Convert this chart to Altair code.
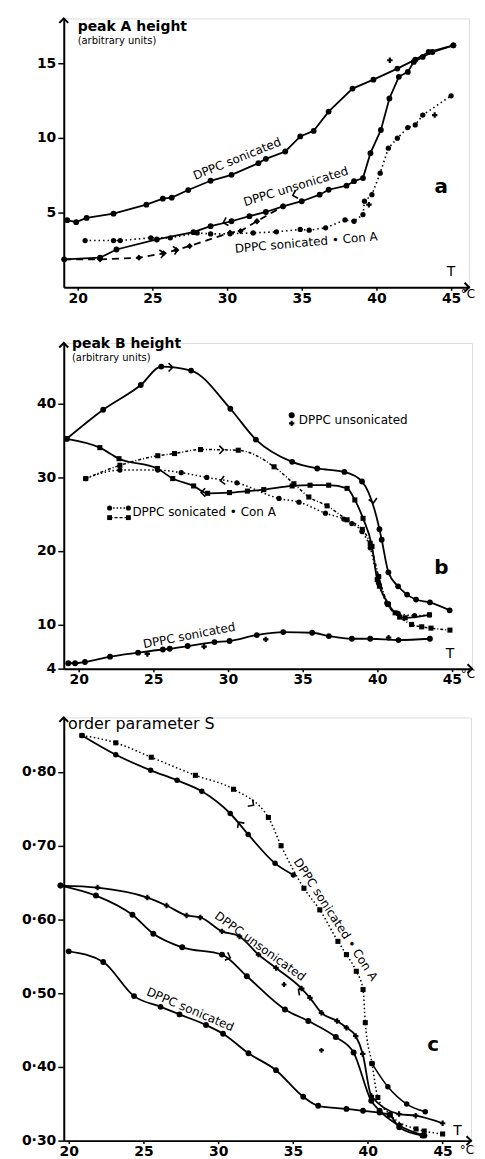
import altair as alt
import pandas as pd

FONT = "DejaVu Sans"

# ---------------- Panel a : peak A height ----------------
A_SON_T = [19.3, 19.9, 20.6, 22.4, 24.6, 25.7, 26.3, 27.4, 28.9, 30.3, 32.1, 32.6, 33.9, 34.9, 35.8, 36.8, 38.4, 39.8, 41.4, 42.6, 43.5, 45.15]
A_SON_V = [4.49, 4.36, 4.64, 4.93, 5.53, 5.93, 6.0, 6.51, 7.13, 7.53, 8.31, 8.6, 9.09, 10.1, 10.47, 11.76, 13.3, 13.9, 14.64, 15.24, 15.75, 16.2]

A_UNS_COOL_T = [19.1, 21.5, 22.6, 25.3, 27.75, 28.9, 30.3, 31.5, 32.6, 33.75, 35.0, 36.2, 36.8, 38.0, 38.5, 39.1, 39.6, 40.3, 40.87, 41.5, 42.1, 42.5, 43.1, 43.75, 45.15]
A_UNS_COOL_V = [1.87, 1.98, 2.53, 3.2, 3.69, 4.09, 4.42, 4.76, 5.04, 5.42, 5.76, 6.2, 6.53, 6.8, 7.1, 7.31, 8.98, 10.53, 12.64, 14.09, 14.42, 15.09, 15.42, 15.75, 16.2]

A_UNS_HEAT_T = [19.1, 21.5, 24.1, 25.75, 26.6, 27.5, 30.2, 30.9, 32.0, 33.75]
A_UNS_HEAT_V = [1.87, 1.87, 1.98, 2.27, 2.49, 2.76, 3.65, 3.76, 4.42, 5.42]

A_CONA_T = [20.5, 22.4, 22.85, 24.9, 26.2, 28.0, 28.9, 30.2, 31.75, 33.3, 34.9, 35.5, 36.6, 37.9, 38.5, 39.1, 39.2, 39.7, 40.25, 40.8, 41.4, 42.1, 42.6, 43.1, 45.0]
A_CONA_V = [3.13, 3.13, 3.13, 3.31, 3.31, 3.64, 3.57, 3.58, 3.64, 3.71, 3.87, 3.82, 3.98, 4.51, 4.42, 4.87, 5.76, 6.2, 7.64, 9.31, 9.98, 10.69, 10.87, 11.53, 12.82]

A_EXTRA_T = [40.9, 43.9, 39.5]
A_EXTRA_V = [15.2, 11.53, 5.53]

A_ARROW_T = [25.8, 26.7, 29.75, 34.4]
A_ARROW_V = [2.28, 2.52, 4.33, 6.15]
A_ARROW_ANG = [348, 348, 164, 164]

# ---------------- Panel b : peak B height ----------------
B_UNS_HEAT_T = [19.2, 21.64, 24.16, 25.53, 27.53, 30.16, 31.87, 34.3, 35.98, 37.8, 38.98, 40.15, 40.3, 40.75, 41.4, 42.0, 42.6, 43.53, 44.85]
B_UNS_HEAT_V = [35.2, 39.14, 42.5, 45.0, 44.46, 39.28, 35.1, 32.07, 31.17, 30.7, 29.4, 22.93, 21.5, 17.07, 15.18, 14.05, 13.38, 13.0, 11.92]

B_UNS_COOL_T = [19.2, 21.42, 22.7, 25.27, 26.3, 27.7, 28.64, 30.1, 31.3, 32.4, 34.3, 35.5, 36.75, 37.98, 38.5, 39.05, 39.65, 40.0, 40.15, 40.75, 41.2, 41.87, 43.5]
B_UNS_COOL_V = [35.2, 34.0, 32.5, 31.17, 29.8, 28.8, 27.8, 27.9, 28.1, 28.3, 28.8, 28.9, 28.9, 28.47, 26.9, 24.4, 20.6, 16.08, 15.2, 12.7, 11.58, 10.9, 11.3]

B_CONA_C_T = [20.47, 22.76, 25.3, 26.87, 28.58, 30.6, 33.42, 34.76, 36.53, 37.76, 38.3, 38.98, 39.53, 40.09, 40.64, 41.4, 42.5, 43.5]
B_CONA_C_V = [29.8, 30.95, 30.95, 30.6, 29.95, 29.23, 27.1, 26.6, 25.1, 24.3, 23.7, 22.6, 20.4, 15.6, 12.9, 11.5, 11.2, 11.3]

B_CONA_S_T = [20.47, 22.76, 25.3, 26.42, 28.16, 30.69, 33.09, 34.42, 35.42, 36.64, 37.98, 39.0, 39.53, 40.1, 40.7, 41.5, 42.3, 42.98, 43.6, 44.87]
B_CONA_S_V = [29.8, 31.6, 32.9, 33.2, 33.74, 33.65, 31.4, 29.1, 27.3, 26.1, 24.2, 22.9, 21.0, 16.5, 12.8, 11.0, 10.0, 9.68, 9.5, 9.23]

B_SON_T = [19.3, 19.76, 20.42, 22.1, 23.98, 25.64, 26.1, 27.3, 29.1, 30.1, 31.93, 33.7, 35.64, 36.76, 38.3, 39.53, 41.42, 43.53]
B_SON_V = [4.73, 4.73, 4.9, 5.63, 6.17, 6.6, 6.7, 7.07, 7.6, 7.75, 8.56, 8.96, 8.87, 8.42, 8.06, 8.06, 7.88, 8.06]

B_EXTRA_T = [24.6, 28.4, 32.53, 40.76]
B_EXTRA_V = [6.0, 7.0, 7.97, 8.2]

B_ARROW_T = [26.3, 39.75, 29.7, 29.5, 28.2]
B_ARROW_V = [44.9, 26.5, 33.7, 29.5, 27.9]
B_ARROW_ANG = [0, 80, 0, 172, 178]

# ---------------- Panel c : order parameter S ----------------
C_CONA_S_T = [20.89, 23.15, 25.52, 28.47, 31.02, 33.35, 34.2, 35.73, 36.79, 38.0, 38.57, 39.23, 39.68, 39.83, 40.28, 40.67, 41.5, 43.22, 43.77, 45.0]
C_CONA_S_V = [0.8495, 0.8396, 0.820, 0.7955, 0.7766, 0.7383, 0.70, 0.6423, 0.613, 0.5703, 0.5523, 0.5297, 0.505, 0.46, 0.4045, 0.3585, 0.335, 0.3158, 0.313, 0.309]

C_CONA_C_T = [20.89, 23.15, 25.48, 27.25, 28.9, 30.8, 32.0, 33.8, 35.02]
C_CONA_C_V = [0.8495, 0.8234, 0.8023, 0.7887, 0.7739, 0.7437, 0.7153, 0.6761, 0.6604]

C_CONA_TAIL_T = [40.28, 41.34, 42.6, 43.84]
C_CONA_TAIL_V = [0.4045, 0.373, 0.3496, 0.3392]

C_UNS_X_T = [19.45, 21.93, 25.26, 26.54, 27.88, 28.8, 30.25, 31.42, 32.69, 33.86, 35.57, 36.13, 36.9, 37.95, 38.57, 39.19, 39.66, 40.23, 42.09, 43.2, 45.0]
C_UNS_X_V = [0.646, 0.6432, 0.6297, 0.6189, 0.6054, 0.6027, 0.5838, 0.577, 0.5523, 0.5342, 0.5063, 0.4937, 0.4734, 0.4622, 0.4532, 0.4419, 0.4176, 0.3608, 0.336, 0.3338, 0.3236]

C_UNS_O_T = [19.45, 21.82, 24.26, 25.66, 27.59, 30.25, 31.91, 34.46, 36.02, 37.86, 39.05, 40.23, 40.79, 42.12, 43.78]
C_UNS_O_V = [0.646, 0.6324, 0.6063, 0.5806, 0.5622, 0.5523, 0.523, 0.478, 0.4622, 0.4405, 0.4194, 0.354, 0.3405, 0.3203, 0.3068]

C_SON_T = [20.0, 22.31, 24.37, 26.14, 27.41, 29.18, 30.32, 32.02, 33.86, 35.68, 36.68, 38.57, 39.68, 40.79, 41.45, 42.1, 43.65]
C_SON_V = [0.5568, 0.5423, 0.496, 0.4815, 0.4712, 0.4568, 0.445, 0.4185, 0.3955, 0.3595, 0.3473, 0.343, 0.3405, 0.338, 0.335, 0.318, 0.3068]

C_EXTRA_T = [34.4, 36.9]
C_EXTRA_V = [0.5117, 0.4225]

C_ARROW_T = [32.36, 31.36, 30.8, 35.36]
C_ARROW_V = [0.755, 0.732, 0.548, 0.505]
C_ARROW_ANG = [35, 235, 20, 215]

X_TICKS = [20, 25, 30, 35, 40, 45]
A_Y_TICKS = [5, 10, 15]
B_Y_TICKS = [4, 10, 20, 30, 40]
C_Y_TICKS = [0.3, 0.4, 0.5, 0.6, 0.7, 0.8]

CHEV_RIGHT = "M -1 -1 L 0 0 L -1 1"
CHEV_UP = "M -1 1 L 0 0 L 1 1"
TICK_FONT = 14


class Panel:
    def __init__(self, xdom, ydom, yticks, ylabel_expr=None):
        self.xdom, self.ydom = xdom, ydom
        self.xs = alt.Scale(domain=xdom, nice=False, zero=False)
        self.ys = alt.Scale(domain=ydom, nice=False, zero=False)
        self.xax = alt.Axis(values=X_TICKS, format="d", labelFontSize=TICK_FONT, labelFont=FONT,
                            labelFontWeight="bold", labelColor="black", domainColor="black", domainWidth=2,
                            tickColor="black", tickWidth=1.5, tickSize=3, labelPadding=1,
                            grid=False, title=None, labelFlush=False, labelOverlap=False)
        yax = dict(values=yticks, labelFontSize=TICK_FONT, labelFont=FONT, labelFontWeight="bold",
                   labelColor="black", domainColor="black", domainWidth=2, tickColor="black", tickWidth=1.5,
                   tickSize=6, labelPadding=2, minExtent=52, maxExtent=52, grid=False,
                   title=None, labelFlush=False, labelOverlap=False)
        if ylabel_expr:
            yax["labelExpr"] = ylabel_expr
        self.yax = alt.Axis(**yax)
        self.layers = []

    def enc(self):
        return dict(x=alt.X("T:Q", scale=self.xs, axis=self.xax),
                    y=alt.Y("v:Q", scale=self.ys, axis=self.yax))

    def line(self, T, V, dash=None, interp="linear", sw=1.8):
        df = pd.DataFrame({"T": T, "v": V})
        props = dict(color="black", strokeWidth=sw, interpolate=interp)
        if dash:
            props["strokeDash"] = dash
        self.layers.append(alt.Chart(df).mark_line(**props).encode(**self.enc()))

    def pts(self, T, V, shape="circle", size=34, filled=True):
        df = pd.DataFrame({"T": T, "v": V})
        self.layers.append(alt.Chart(df).mark_point(shape=shape, size=size, filled=filled, color="black",
                                                    opacity=1, strokeWidth=1.4).encode(**self.enc()))

    def arrows(self, T, V, A):
        df = pd.DataFrame({"T": T, "v": V, "a": A})
        self.layers.append(alt.Chart(df).mark_point(shape=CHEV_RIGHT, size=70, filled=False, color="black",
                                                    opacity=1, strokeWidth=1.6).encode(
            angle=alt.Angle("a:Q", scale=None), **self.enc()))

    def txt(self, s, T, v, size=12, angle=0, align="center", weight="normal"):
        df = pd.DataFrame({"T": [T], "v": [v], "s": [s]})
        self.layers.append(alt.Chart(df).mark_text(fontSize=size, angle=angle % 360, align=align,
                                                   baseline="middle", font=FONT, fontWeight=weight,
                                                   color="black").encode(text="s:N", **self.enc()))

    def frame(self):
        ax = pd.DataFrame({"T": [self.xdom[1]], "v": [self.ydom[0]]})
        ay = pd.DataFrame({"T": [self.xdom[0]], "v": [self.ydom[1]]})
        self.layers.append(alt.Chart(ax).mark_point(shape=CHEV_RIGHT, size=80, filled=False, color="black",
                                                    opacity=1, strokeWidth=2).encode(**self.enc()))
        self.layers.append(alt.Chart(ay).mark_point(shape=CHEV_UP, size=80, filled=False, color="black",
                                                    opacity=1, strokeWidth=2).encode(**self.enc()))

    def chart(self, w, h):
        return alt.layer(*self.layers).properties(width=w, height=h)


# ---- Panel a ----
A = Panel([19.07, 46.2], [0, 18], A_Y_TICKS)
A.frame()
A.line(A_SON_T, A_SON_V)
A.pts(A_SON_T, A_SON_V)
A.line(A_UNS_COOL_T, A_UNS_COOL_V)
A.pts(A_UNS_COOL_T, A_UNS_COOL_V)
A.line(A_UNS_HEAT_T, A_UNS_HEAT_V, dash=[7, 5])
A.pts(A_UNS_HEAT_T, A_UNS_HEAT_V, shape="diamond", size=40)
A.line(A_CONA_T, A_CONA_V, dash=[1.5, 3], sw=1.6)
A.pts(A_CONA_T, A_CONA_V, size=28)
A.pts(A_EXTRA_T, A_EXTRA_V, shape="cross", size=30)
A.arrows(A_ARROW_T, A_ARROW_V, A_ARROW_ANG)
A.txt("peak A height", 20.0, 17.45, size=14, align="left", weight="bold")
A.txt("(arbitrary units)", 20.0, 16.5, size=10, align="left")
A.txt("DPPC sonicated", 30.67, 8.6, size=12, angle=-22)
A.txt("DPPC unsonicated", 34.6, 6.75, size=12, angle=-17)
A.txt("DPPC sonicated • Con A", 35.3, 3.0, size=12, angle=-5)
A.txt("a", 44.33, 6.73, size=20, weight="bold")
A.txt("T", 45.0, 1.0, size=14)
A.txt("°C", 46.6, -0.45, size=12, align="right")
pa = A.chart(407, 270)

# ---- Panel b ----
B = Panel([19.0, 46.35], [4, 48.2], B_Y_TICKS)
B.frame()
B.line(B_UNS_HEAT_T, B_UNS_HEAT_V, interp="monotone")
B.pts(B_UNS_HEAT_T, B_UNS_HEAT_V)
B.line(B_UNS_COOL_T, B_UNS_COOL_V, interp="monotone")
B.pts(B_UNS_COOL_T, B_UNS_COOL_V, shape="square", size=26)
B.line(B_CONA_C_T, B_CONA_C_V, dash=[1.5, 2.5], interp="monotone", sw=1.5)
B.pts(B_CONA_C_T, B_CONA_C_V, size=28)
B.line(B_CONA_S_T, B_CONA_S_V, dash=[3, 2, 1, 2], interp="monotone", sw=1.5)
B.pts(B_CONA_S_T, B_CONA_S_V, shape="square", size=26)
B.line(B_SON_T, B_SON_V, interp="monotone")
B.pts(B_SON_T, B_SON_V)
B.pts(B_EXTRA_T, B_EXTRA_V, shape="cross", size=30)
B.arrows(B_ARROW_T, B_ARROW_V, B_ARROW_ANG)
B.txt("peak B height", 19.55, 48.0, size=14, align="left", weight="bold")
B.txt("(arbitrary units)", 19.55, 46.2, size=10, align="left")
B.pts([34.27], [38.4], size=36)
B.pts([34.27], [37.3], shape="cross", size=28)
B.txt("DPPC unsonicated", 34.75, 37.8, size=12, align="left")
B.line([22.07, 23.33], [25.8, 25.8], dash=[1.5, 2], sw=1.4)
B.pts([22.07, 23.33], [25.8, 25.8], size=26)
B.line([22.07, 23.33], [24.5, 24.5], dash=[3, 2], sw=1.4)
B.pts([22.07, 23.33], [24.5, 24.5], shape="square", size=24)
B.txt("DPPC sonicated • Con A", 23.6, 25.2, size=12, align="left")
B.txt("DPPC sonicated", 27.4, 8.5, size=12, angle=-11)
B.txt("b", 44.3, 17.66, size=20, weight="bold")
B.txt("T", 44.87, 6.0, size=14)
B.txt("°C", 46.55, 3.3, size=12, align="right")
pb = B.chart(410, 327)

# ---- Panel c ----
dot_expr = "replace(format(datum.value, '.2f'), '.', '·')"
C = Panel([19.67, 46.9], [0.30, 0.874], C_Y_TICKS, ylabel_expr=dot_expr)
C.frame()
C.line(C_CONA_S_T, C_CONA_S_V, dash=[1.5, 2.5], interp="monotone", sw=1.5)
C.pts(C_CONA_S_T, C_CONA_S_V, shape="square", size=26)
C.line(C_CONA_C_T, C_CONA_C_V, interp="monotone")
C.pts(C_CONA_C_T, C_CONA_C_V, size=30)
C.line(C_CONA_TAIL_T, C_CONA_TAIL_V, interp="monotone", sw=1.5)
C.pts(C_CONA_TAIL_T, C_CONA_TAIL_V, size=30)
C.line(C_UNS_X_T, C_UNS_X_V, interp="monotone")
C.pts(C_UNS_X_T, C_UNS_X_V, shape="cross", size=30)
C.line(C_UNS_O_T, C_UNS_O_V, interp="monotone")
C.pts(C_UNS_O_T, C_UNS_O_V, size=36)
C.line(C_SON_T, C_SON_V, interp="monotone")
C.pts(C_SON_T, C_SON_V, size=34)
C.pts(C_EXTRA_T, C_EXTRA_V, shape="cross", size=24)
C.arrows(C_ARROW_T, C_ARROW_V, C_ARROW_ANG)
C.txt("order parameter S", 19.95, 0.865, size=16, align="left")
C.txt("DPPC sonicated", 28.13, 0.478, size=12, angle=23)
C.txt("DPPC unsonicated", 32.8, 0.5635, size=12, angle=36)
C.txt("DPPC sonicated • Con A", 37.85, 0.60, size=12, angle=57)
C.txt("c", 44.36, 0.43, size=20, weight="bold")
C.txt("T", 46.0, 0.3126, size=14)
C.txt("°C", 47.1, 0.287, size=12, align="right")
pc = C.chart(409, 425)

top = alt.vconcat(pa, pb, spacing=30)
chart = alt.vconcat(top, pc, spacing=25).properties(
    padding={"left": 3, "top": 3, "right": 0, "bottom": 0}
).configure_view(strokeWidth=0).configure(font=FONT)

chart.save("out.html", embed_options={"renderer": "svg", "actions": False})
